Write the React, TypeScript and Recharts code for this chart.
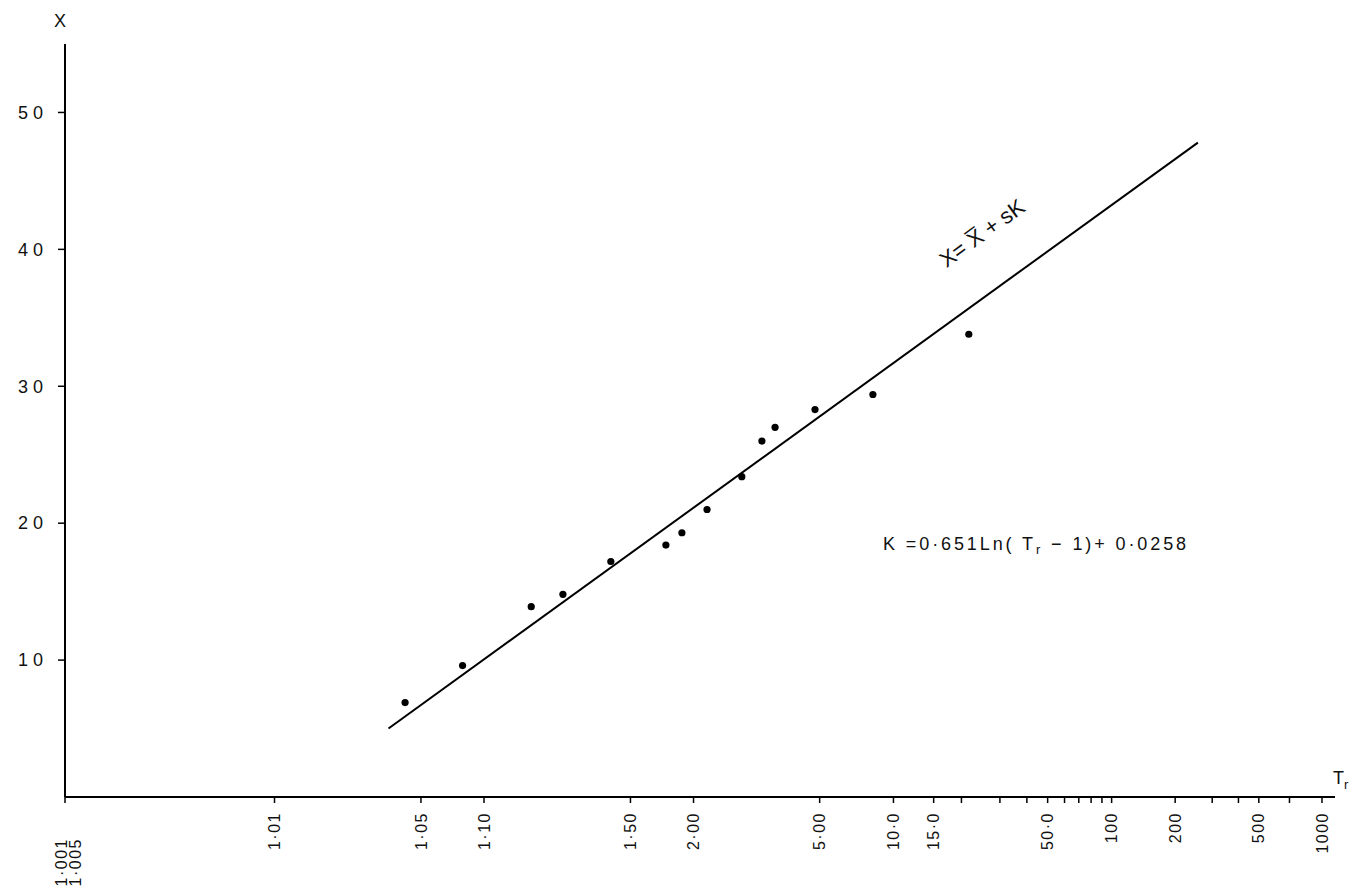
import { ComposedChart, Line, Scatter, XAxis, YAxis } from "recharts";

const plottedTr = [1.042, 1.079, 1.168, 1.238, 1.403, 1.738, 1.88, 2.16, 2.7, 3.12, 3.45, 4.8, 8.18, 21.6];
const plottedX = [6.9, 9.6, 13.9, 14.8, 17.2, 18.4, 19.3, 21.0, 23.4, 26.0, 27.0, 28.3, 29.4, 33.8];

// fitted line X = Xbar + sK, its two ends
const fitTr = [1.035, 256.5];
const fitX = [5.0, 47.8];

const majorTr = [1.001, 1.01, 1.05, 1.1, 1.5, 2, 5, 10, 15, 50, 100, 200, 500, 1000];
const majorLabels = ["1·001", "1·01", "1·05", "1·10", "1·50", "2·00", "5·00", "10·0", "15·0", "50·0", "100", "200", "500", "1000"];
const stackedLabel = "1·005";
const minorTr = [20, 30, 40, 60, 70, 80, 90, 300, 400, 700];
const yTicks = [10, 20, 30, 40, 50];

const FONT = "'Liberation Sans', Arial, sans-serif";

// paper is linear in ln(Tr - 1)
const toAxis = (tr: number) => Math.log(tr - 1);

const points = plottedTr.map((t, i) => ({ k: toAxis(t), x: plottedX[i] }));
const fitLine = fitTr.map((t, i) => ({ k: toAxis(t), x: fitX[i] }));
const xTicks = [...majorTr, ...minorTr].map(toAxis);

const TrTick = (props: any) => {
  const { x, y, payload } = props;
  const idx = majorTr.findIndex((t) => Math.abs(toAxis(t) - payload.value) < 1e-6);
  if (idx < 0) return null;
  const lines: [string, number][] =
    idx === 0 ? [[majorLabels[0], -4], [stackedLabel, 10]] : [[majorLabels[idx], 0]];
  const top = idx === 0 ? y + 33 : y + 7;
  return (
    <g>
      {lines.map(([s, dx]) => (
        <text
          key={s}
          x={x + dx}
          y={top}
          dy="0.35em"
          textAnchor="end"
          transform={`rotate(-90 ${x + dx} ${top})`}
          fontFamily={FONT}
          fontSize={16}
          letterSpacing={1.5}
          fill="#111"
        >
          {s}
        </text>
      ))}
    </g>
  );
};

const XTick = (props: any) => {
  const { x, y, payload } = props;
  return (
    <text x={x} y={y} dy="0.35em" textAnchor="end" fontFamily={FONT} fontSize={18} letterSpacing={5} fill="#111">
      {payload.value}
    </text>
  );
};

const Dot = (p: any) => <circle cx={p.cx} cy={p.cy} r={3.6} fill="#000" />;

export default function App() {
  return (
    <div style={{ position: "absolute", left: 0, top: 0, width: 1366, height: 896, background: "#fff" }}>
      <ComposedChart width={1366} height={896} margin={{ top: 44, right: 31, bottom: 9, left: 15 }}>
        <XAxis
          type="number"
          dataKey="k"
          domain={[Math.log(0.001), 7.05]}
          ticks={xTicks}
          interval={0}
          tick={<TrTick />}
          tickSize={6}
          height={90}
          allowDataOverflow
          stroke="#000"
          axisLine={{ stroke: "#000", strokeWidth: 2 }}
          tickLine={{ stroke: "#000", strokeWidth: 1.5 }}
        />
        <YAxis
          type="number"
          dataKey="x"
          domain={[0, 55]}
          ticks={yTicks}
          interval={0}
          tick={<XTick />}
          tickSize={7}
          tickMargin={10}
          width={50}
          allowDataOverflow
          axisLine={{ stroke: "#000", strokeWidth: 2 }}
          tickLine={{ stroke: "#000", strokeWidth: 1.5 }}
        />
        <Line
          data={fitLine}
          dataKey="x"
          type="linear"
          stroke="#000"
          strokeWidth={2}
          dot={false}
          isAnimationActive={false}
        />
        <Scatter data={points} dataKey="x" shape={<Dot />} isAnimationActive={false} />
      </ComposedChart>
      <svg
        width={1366}
        height={896}
        style={{ position: "absolute", left: 0, top: 0, pointerEvents: "none" }}
      >
        <text x={60} y={27} textAnchor="middle" fontFamily={FONT} fontSize={18} fill="#111">
          X
        </text>
        <text x={1333} y={784} fontFamily={FONT} fontSize={18} fill="#111">
          T<tspan fontSize={13} dy={5}>r</tspan>
        </text>
        <text
          x={982}
          y={233}
          dy="0.35em"
          textAnchor="middle"
          transform="rotate(-36 982 233)"
          fontFamily={FONT}
          fontSize={22}
          fill="#111"
        >
          {"X= X\u0305 + sK"}
        </text>
        <text x={883} y={550} fontFamily={FONT} fontSize={18} letterSpacing={2.9} fill="#111">
          K =0·651Ln( T<tspan fontSize={13} dy={4}>r</tspan>
          <tspan dy={-4}> − 1)+ 0·0258</tspan>
        </text>
      </svg>
    </div>
  );
}
